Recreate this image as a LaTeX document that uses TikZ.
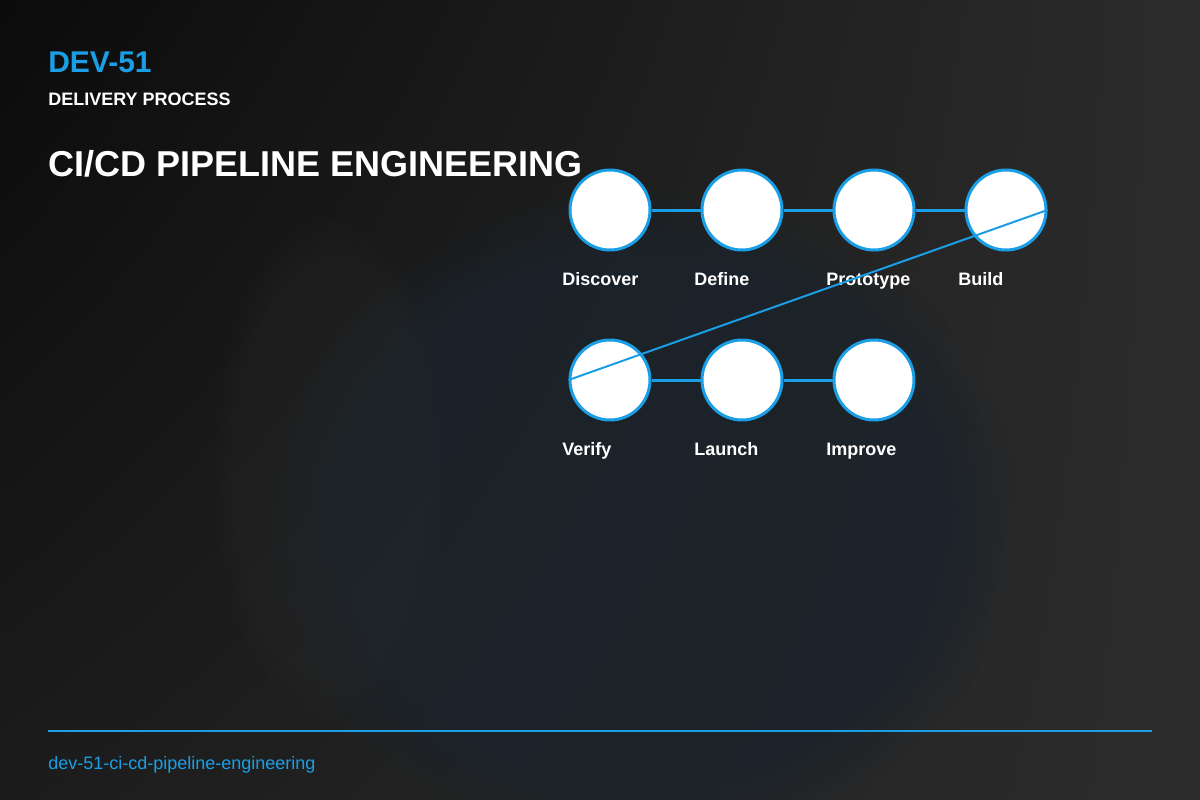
\documentclass[tikz,border=0pt]{standalone}
\usepackage{fontspec}
\setmainfont{Liberation Sans}
\usetikzlibrary{fadings,shadings}
\definecolor{pipeblue}{HTML}{1A9FE6}
\definecolor{bgdark}{HTML}{0B0B0B}
\definecolor{bgmid}{HTML}{1C1C1C}
\definecolor{bglight}{HTML}{2C2C2C}
\definecolor{bgblue}{HTML}{1A232B}

\begin{document}
\begin{tikzpicture}[
   x=0.75pt, y=-0.75pt,
   stage/.style={circle, draw=pipeblue, fill=white, line width=2.25pt,
      minimum size=60pt, inner sep=0pt},
   stagelabel/.style={anchor=base west, text=white, inner sep=0pt,
      font=\bfseries\fontsize{13.5}{16}\selectfont},
   link/.style={draw=pipeblue, line width=2.25pt},
   headtext/.style={anchor=base west, inner sep=0pt}
]
   \useasboundingbox (0,0) rectangle (1200,800);
   \shade[upper left=bgdark, upper right=bglight, lower left=bgmid, lower right=bglight]
      (0,0) rectangle (1200,800);
   \fill[bgblue, path fading=circle with fuzzy edge 20 percent, opacity=0.8]
      (640,520) ellipse (380 and 330);
   \fill[bglight, path fading=circle with fuzzy edge 20 percent, opacity=0.25]
      (330,470) ellipse (120 and 260);

   \node[headtext, text=pipeblue, font=\bfseries\fontsize{22.5}{27}\selectfont] (code) at (48,72) {DEV-51};
   \node[headtext, text=white, font=\bfseries\fontsize{13.5}{16}\selectfont] (kind) at (48,105) {DELIVERY PROCESS};
   \node[headtext, text=white, font=\bfseries\fontsize{27}{32}\selectfont] (title) at (48,176) {CI/CD PIPELINE ENGINEERING};

   \foreach \name/\x/\y/\txt in {disc/610/210/Discover, def/742/210/Define,
         proto/874/210/Prototype, build/1006/210/Build, verify/610/380/Verify,
         launch/742/380/Launch, improve/874/380/Improve} {
      \node[stage] (\name) at (\x,\y) {};
      \node[stagelabel] (\name-lbl) at (\x-48,\y+75) {\txt};
   }

   \draw[link] (disc) -- (def);
   \draw[link] (def) -- (proto);
   \draw[link] (proto) -- (build);
   \draw[link] (verify) -- (launch);
   \draw[link] (launch) -- (improve);
   \draw[link, line width=1.5pt] (build.east) -- (verify.west);

   \coordinate (rule-l) at (48,731);
   \coordinate (rule-r) at (1152,731);
   \draw[pipeblue, line width=1.5pt] (rule-l) -- (rule-r);
   \node[headtext, text=pipeblue, font=\fontsize{13.5}{16}\selectfont] (slug) at (48,769) {dev-51-ci-cd-pipeline-engineering};
\end{tikzpicture}
\end{document}
